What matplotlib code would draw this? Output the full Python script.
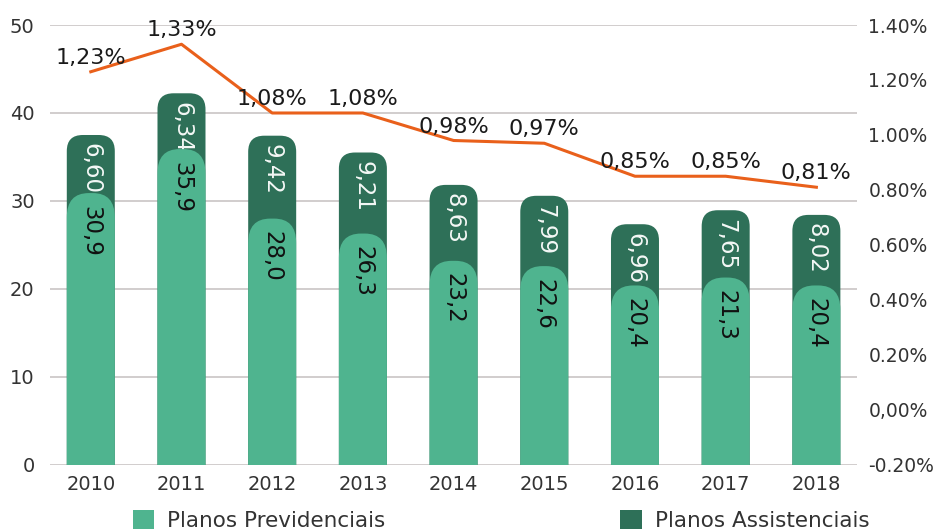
import numpy as np
import matplotlib.pyplot as plt
from matplotlib.patches import FancyBboxPatch, Patch

plt.rcParams["font.family"] = ["DejaVu Sans"]

years = ["2010", "2011", "2012", "2013", "2014", "2015", "2016", "2017", "2018"]
previdenciais = [30.9, 35.9, 28.0, 26.3, 23.2, 22.6, 20.4, 21.3, 20.4]
assistenciais = [6.60, 6.34, 9.42, 9.21, 8.63, 7.99, 6.96, 7.65, 8.02]
taxa = [1.23, 1.33, 1.08, 1.08, 0.98, 0.97, 0.85, 0.85, 0.81]

left_ticks = [0, 10, 20, 30, 40, 50]
right_ticks = [-0.2, 0.0, 0.2, 0.4, 0.6, 0.8, 1.0, 1.2, 1.4]
right_labels = ["-0.20%", "0,00%", "0.20%", "0.40%", "0.60%", "0.80%", "1.00%", "1.20%", "1.40%"]

light = "#4fb48f"
dark = "#2e7058"
orange = "#e9601b"
grid_c = "#c9c5c5"
txt_c = "#333333"


def br(v, nd):
    return f"{v:.{nd}f}".replace(".", ",")


fig = plt.figure(figsize=(9.43, 5.32), dpi=100)
ax = fig.add_axes([0.053, 0.126, 0.856, 0.827])
x = np.arange(len(years))
ax.set_xlim(-0.45, 8.45)
ax.set_ylim(0, 50)

# aspect between x and y data units in pixels
p0, p1 = ax.transData.transform([(0, 0), (1, 1)])
px_x, px_y = p1[0] - p0[0], p1[1] - p0[1]
w = 48 / px_x
r_dark = 16 / px_x
r_light = 22 / px_x
asp = px_x / px_y

for i in x:
    tot = previdenciais[i] + assistenciais[i]
    ax.add_patch(FancyBboxPatch((i - w / 2, -5), w, tot + 5,
                                boxstyle=f"round,pad=0,rounding_size={r_dark}",
                                mutation_aspect=asp, fc=dark, ec="none", zorder=2))
    ax.add_patch(FancyBboxPatch((i - w / 2, -5), w, previdenciais[i] + 5,
                                boxstyle=f"round,pad=0,rounding_size={r_light}",
                                mutation_aspect=asp * 1.1, fc=light, ec="none", zorder=4))
    ax.annotate(br(assistenciais[i], 2), (i, tot), xytext=(0, -6), textcoords="offset points",
                rotation=270, ha="center", va="top", fontsize=16.5, color="#f4f8f6", zorder=3)
    ax.annotate(br(previdenciais[i], 1), (i, previdenciais[i]), xytext=(0, -9),
                textcoords="offset points", rotation=270, ha="center", va="top",
                fontsize=16.5, color="#111111", zorder=5)

ax.set_yticks(left_ticks)
ax.grid(axis="y", color=grid_c, lw=1.2, zorder=0)
ax.set_axisbelow(True)
ax.set_xticks(x)
ax.set_xticklabels(years)
for s in ax.spines.values():
    s.set_visible(False)
ax.tick_params(axis="both", length=0, labelsize=14, colors=txt_c)
ax.tick_params(axis="x", pad=7)
ax.tick_params(axis="y", pad=11)

ax2 = ax.twinx()
ax2.set_ylim(-0.2, 1.4)
ax2.set_yticks(right_ticks)
ax2.set_yticklabels(right_labels)
for s in ax2.spines.values():
    s.set_visible(False)
ax2.tick_params(axis="y", length=0, labelsize=13.5, colors=txt_c, pad=8)
ax2.plot(x, taxa, color=orange, lw=2.2, zorder=6)
for i in x:
    ax2.annotate(br(taxa[i], 2) + "%", (i, taxa[i]), xytext=(0, 10), textcoords="offset points",
                 ha="center", va="center", fontsize=16, color="#1a1a1a", zorder=7)

handles = [Patch(fc=light, ec="none"), Patch(fc=dark, ec="none")]
fig.legend(handles, ["Planos Previdenciais", "Planos Assistenciais"], loc="upper left",
           bbox_to_anchor=(0.141, 0.042), ncol=2, frameon=False, fontsize=15.5,
           handlelength=1.0, handleheight=1.0, handletextpad=0.6, columnspacing=10.9,
           borderpad=0, borderaxespad=0, labelcolor=txt_c)

plt.savefig("out.png", dpi=100)
